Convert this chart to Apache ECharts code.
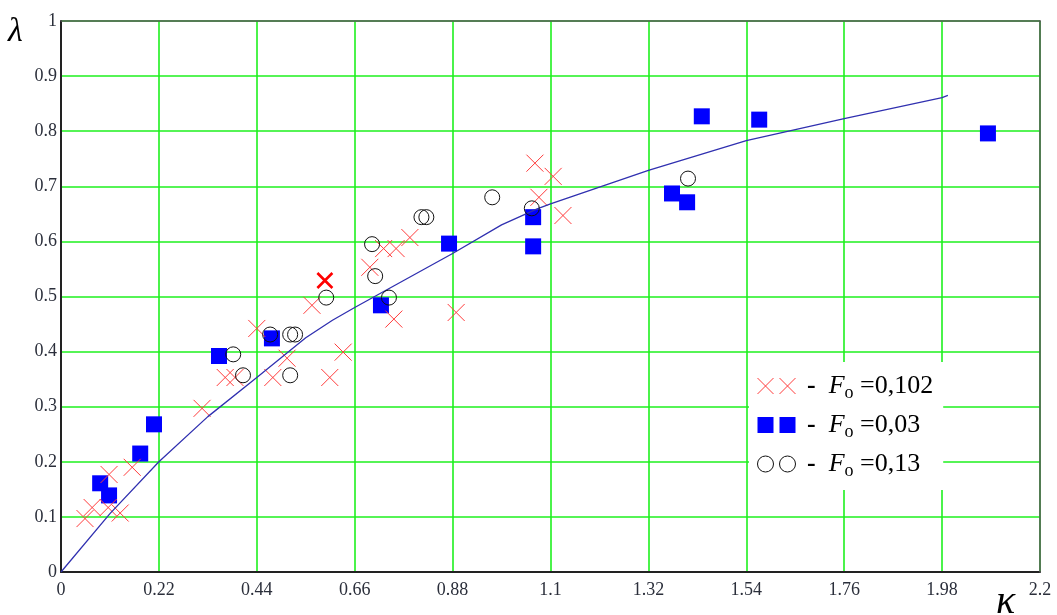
<!DOCTYPE html>
<html><head><meta charset="utf-8">
<script src="https://cdn.jsdelivr.net/npm/echarts@6/dist/echarts.min.js"></script>
<style>html,body{margin:0;padding:0;background:#fff}#c{width:1057px;height:615px}</style>
</head><body><div id="c"></div>
<script>
const xTickLabels = ['0','0.22','0.44','0.66','0.88','1.1','1.32','1.54','1.76','1.98','2.2'];
const yTickLabels = ['0','0.1','0.2','0.3','0.4','0.5','0.6','0.7','0.8','0.9','1'];

// F_o = 0,102 (crosses)
const crossX = [0.054,0.070,0.106,0.133,0.108,0.160,0.317,0.369,0.391,0.440,0.476,0.508,0.564,0.604,0.634,0.694,0.725,0.753,0.784,0.748,0.888,1.065,1.106,1.074,1.128];
const crossY = [0.097,0.117,0.117,0.107,0.177,0.190,0.297,0.353,0.353,0.442,0.353,0.388,0.484,0.353,0.399,0.553,0.587,0.587,0.607,0.459,0.471,0.742,0.718,0.680,0.647];
const boldCross = [0.593,0.529];

// F_o = 0,03 (squares)
const squareX = [0.088,0.108,0.178,0.209,0.355,0.474,0.719,0.872,1.061,1.061,1.373,1.407,1.440,1.569,2.083];
const squareY = [0.161,0.139,0.215,0.268,0.392,0.424,0.484,0.596,0.644,0.591,0.687,0.671,0.827,0.821,0.796];

// F_o = 0,13 (circles)
const circleX = [0.387,0.409,0.470,0.515,0.526,0.515,0.596,0.699,0.706,0.737,0.810,0.821,0.969,1.058,1.409];
const circleY = [0.395,0.357,0.431,0.431,0.431,0.357,0.498,0.595,0.537,0.498,0.644,0.644,0.680,0.660,0.714];

// fitted curve
const fitX = [0,0.11,0.22,0.33,0.44,0.55,0.61,0.66,0.77,0.88,0.99,1.07,1.1,1.32,1.54,1.76,1.98,1.993];
const fitY = [0,0.106,0.200,0.282,0.353,0.425,0.457,0.480,0.529,0.578,0.630,0.659,0.668,0.729,0.783,0.823,0.861,0.865];

const seriesNames = ['Fo=0,102','Fo=0,03','Fo=0,13'];
const legendValues = ['0,102','0,03','0,13'];

const zip = (a,b) => a.map((v,i)=>[v,b[i]]);
const serif = '"Liberation Serif","Times New Roman",serif';
const gridGreen = '#1ef01e';
const labelColor = '#2b2f3b';

const crossPath = 'path://M0,0L10,10M10,0L0,10';
const chart = echarts.init(document.getElementById('c'));
chart.setOption({
  animation: false,
  backgroundColor: '#fff',
  grid: {left: 61, right: 17, top: 21, bottom: 43, containLabel: false},
  xAxis: [{
    type: 'value', min: 0, max: 2.2, interval: 0.22,
    axisLine: {onZero: false, lineStyle: {color: '#222', width: 2}},
    axisTick: {show: false},
    splitLine: {show: true, lineStyle: {color: gridGreen, width: 1.6}},
    axisLabel: {formatter: v => xTickLabels[Math.round(v/0.22)], fontFamily: serif, fontSize: 18, color: labelColor, margin: 9, showMaxLabel: true, showMinLabel: true}
  },{
    type: 'value', position: 'top', min: 0, max: 2.2, interval: 0.22, z: 5,
    axisLine: {show: true, onZero: false, lineStyle: {color: '#555', width: 1.5}},
    axisTick: {show: false}, axisLabel: {show: false}, splitLine: {show: false}
  }],
  yAxis: [{
    type: 'value', min: 0, max: 1, interval: 0.1,
    axisLine: {show: true, onZero: false, lineStyle: {color: '#222', width: 2}},
    axisTick: {show: false},
    splitLine: {show: true, lineStyle: {color: gridGreen, width: 1.6}},
    axisLabel: {formatter: v => yTickLabels[Math.round(v/0.1)], fontFamily: serif, fontSize: 18, color: labelColor, margin: 4}
  },{
    type: 'value', position: 'right', min: 0, max: 1, interval: 0.1, z: 5,
    axisLine: {show: true, onZero: false, lineStyle: {color: '#555', width: 1.5}},
    axisTick: {show: false}, axisLabel: {show: false}, splitLine: {show: false}
  }],
  legend: {
    orient: 'vertical', left: 749, top: 362,
    itemWidth: 38, itemHeight: 16, itemGap: 7,
    backgroundColor: '#fff', padding: [8, 10, 10, 8],
    selectedMode: false,
    data: [
      {name: seriesNames[0], icon: 'path://M0,0L16,16M16,0L0,16M22,0L38,16M38,0L22,16', itemStyle: {color: 'rgba(0,0,0,0)', borderColor: '#ff3b3b', borderWidth: 1}},
      {name: seriesNames[1], icon: 'path://M0,0H16V16H0Z M22,0H38V16H22Z', itemStyle: {color: '#0000ff', borderWidth: 0}},
      {name: seriesNames[2], icon: 'path://M0,8a8,8 0 1,0 16,0a8,8 0 1,0 -16,0Z M22,8a8,8 0 1,0 16,0a8,8 0 1,0 -16,0Z', itemStyle: {color: 'rgba(0,0,0,0)', borderColor: '#111', borderWidth: 1}}
    ],
    formatter: name => ' {d|-}  {F|F}{o|o} {t|=' + legendValues[seriesNames.indexOf(name)] + '}',
    textStyle: {
      fontFamily: serif, fontSize: 26, color: '#000', lineHeight: 29,
      rich: {
        d: {fontFamily: serif, fontSize: 26, fontWeight: 'bold', color: '#000', lineHeight: 29},
        F: {fontFamily: serif, fontStyle: 'italic', fontSize: 26, color: '#000', lineHeight: 29},
        o: {fontFamily: serif, fontSize: 18, color: '#000', padding: [14, 0, 0, 0], lineHeight: 29},
        t: {fontFamily: serif, fontSize: 26, color: '#000', lineHeight: 29}
      }
    }
  },
  graphic: [
    {type: 'text', left: 8, top: 15, style: {text: 'λ', font: 'italic 34px ' + serif, fill: '#000'}},
    {type: 'text', left: 996, top: 582, style: {text: 'κ', font: 'italic 40px ' + serif, fill: '#000'}}
  ],
  series: [
    {
      name: seriesNames[1], type: 'scatter', z: 2,
      data: zip(squareX, squareY), symbol: 'rect', symbolSize: 16,
      itemStyle: {color: '#0000ff', opacity: 1}, emphasis: {disabled: true}
    },
    {
      name: seriesNames[0], type: 'scatter', z: 3,
      data: zip(crossX, crossY).concat([{value: boldCross, symbolSize: 15, itemStyle: {borderColor: '#ff0000', borderWidth: 2.6}}]),
      symbol: crossPath, symbolSize: 17,
      itemStyle: {color: 'rgba(0,0,0,0)', borderColor: '#ff3b3b', borderWidth: 1, opacity: 1}, emphasis: {disabled: true}
    },
    {
      name: 'fit', type: 'line', z: 4, data: zip(fitX, fitY), showSymbol: false, symbol: 'none',
      lineStyle: {color: '#3030b0', width: 1.3}, emphasis: {disabled: true}
    },
    {
      name: seriesNames[2], type: 'scatter', z: 5,
      data: zip(circleX, circleY), symbol: 'circle', symbolSize: 15,
      itemStyle: {color: 'rgba(0,0,0,0)', borderColor: '#111', borderWidth: 1, opacity: 1}, emphasis: {disabled: true}
    }
  ]
});
</script>
</body></html>
